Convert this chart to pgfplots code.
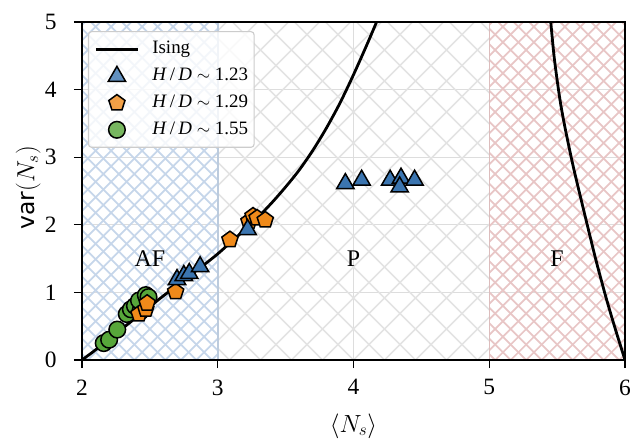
\documentclass[border=0pt]{standalone}
\usepackage{pgfplots}
\pgfplotsset{compat=1.18}
\usepackage{fontspec}
\setmainfont{Liberation Serif}
\newfontfamily\labelsans{DejaVu Sans}

\definecolor{afhatch}{HTML}{C6D6EA}
\definecolor{afedge}{HTML}{BCCBDD}
\definecolor{phatch}{HTML}{E3E3E3}
\definecolor{fhatch}{HTML}{E8C6C6}
\definecolor{fedge}{HTML}{DCBDBD}
\definecolor{gridgray}{HTML}{DDDDDD}
\definecolor{mblue}{HTML}{3B75B0}
\definecolor{morange}{HTML}{F08A1A}
\definecolor{mgreen}{HTML}{57A63A}

% cross-hatching of the band x0..x1 (colour #3, line spacing #4, anchored at x=#5)
\newcommand{\crosshatch}[5]{%
  \begin{scope}
    \clip (axis cs:#1,0) rectangle (axis cs:#2,5);
    \pgfplotsinvokeforeach{-40,...,40}{
      \draw[#3, line width=1.6bp]
        ([xshift=##1*#4]axis cs:#5,0) -- ++(360bp,360bp);
      \draw[#3, line width=1.6bp]
        ([xshift=##1*#4]axis cs:#5,0) -- ++(-360bp,360bp);
    }
  \end{scope}}

\begin{document}
\begin{tikzpicture}
\begin{axis}[
  at={(0,0)}, anchor=south west,
  scale only axis, width=543bp, height=338bp,
  xmin=2, xmax=6, ymin=0, ymax=5,
  xtick={2,3,4,5,6}, ytick={0,1,2,3,4,5},
  tick pos=left, tick align=outside, major tick length=8bp,
  major tick style={black, line width=1.3bp},
  axis line style={black, line width=1.5bp},
  grid=major, major grid style={gridgray, line width=1bp},
  ticklabel style={font=\fontsize{23.5}{26}\selectfont},
  xticklabel style={yshift=-8bp},
  yticklabel style={xshift=-14bp},
  /pgf/number format/assume math mode=true,
  label style={font=\fontsize{23.5}{26}\selectfont},
  xlabel={$\langle N_s\rangle$},
  ylabel={{\labelsans var}$(N_s)$},
  xlabel style={at={(axis description cs:0.5,-0.195)}, anchor=center},
  ylabel style={at={(axis description cs:-0.099,0.51)}, anchor=center},
  legend image code/.code={%
    \draw[mark repeat=2,mark phase=2,#1]
      plot coordinates {(0bp,0bp)(21bp,0bp)(42bp,0bp)};},
  legend cell align=left,
  legend style={
    at={(axis description cs:0.011,0.973)}, anchor=north west,
    draw=black!20, line width=1.1bp, rounded corners=3bp,
    fill=white, fill opacity=0.8, text opacity=1,
    font=\fontsize{19}{22}\selectfont,
    row sep=7.7bp, inner xsep=6bp, inner ysep=8bp,
    nodes={inner sep=0bp, text height=14bp, text depth=5bp},
    /tikz/every odd column/.append style={column sep=13bp},
  },
]

% phase regions: antiferromagnetic, paramagnetic, ferromagnetic
\crosshatch{3}{5}{phatch}{31bp}{4}
\crosshatch{2}{3}{afhatch}{15.5bp}{2.5}
\crosshatch{5}{6}{fhatch}{15.5bp}{5.5}
\addplot[afedge, line width=1.5bp, forget plot] coordinates {(3,0) (3,5)};
\addplot[fedge, line width=1.5bp, forget plot] coordinates {(5,0) (5,5)};

\node[font=\fontsize{24}{26}\selectfont] at (axis cs:2.5,1.5) {AF};
\node[font=\fontsize{24}{26}\selectfont] at (axis cs:4.0,1.5) {P};
\node[font=\fontsize{24}{26}\selectfont] at (axis cs:5.5,1.5) {F};

% legend entries
\addlegendimage{black, line width=2.8bp}
\addlegendentry{Ising}
\addlegendimage{only marks, mark=triangle*, mark size=10bp,
  mark options={fill=mblue, draw=black, line width=1.5bp}}
\addlegendentry{\textit{H}\,/\,\textit{D} $\sim$ 1.23}
\addlegendimage{only marks, mark=pentagon*, mark size=8.5bp,
  mark options={fill=morange, draw=black, line width=1.5bp}}
\addlegendentry{\textit{H}\,/\,\textit{D} $\sim$ 1.29}
\addlegendimage{only marks, mark=*, mark size=8.3bp,
  mark options={fill=mgreen, draw=black, line width=1.5bp}}
\addlegendentry{\textit{H}\,/\,\textit{D} $\sim$ 1.55}

% Ising reference curves
\addplot[black, line width=2.8bp, smooth, forget plot] coordinates {
  (2.0,0.0) (2.1,0.15) (2.2,0.31) (2.3,0.47) (2.4,0.63) (2.5,0.79)
  (2.6,0.95) (2.7,1.10) (2.8,1.26) (2.9,1.41) (3.0,1.57) (3.1,1.75)
  (3.2,1.93) (3.3,2.12) (3.4,2.33) (3.5,2.56) (3.6,2.81) (3.7,3.10)
  (3.8,3.43) (3.9,3.80) (4.0,4.22) (4.1,4.67) (4.17,5.0) (4.2,5.15)
};
\addplot[black, line width=2.8bp, smooth, forget plot] coordinates {
  (6.0,0.0) (5.93,0.45) (5.865,0.89) (5.8,1.37) (5.767,1.63) (5.7,2.18)
  (5.619,2.86) (5.56,3.42) (5.521,3.85) (5.48,4.45) (5.453,5.0) (5.44,5.25)
};

% H/D ~ 1.55
\addplot[only marks, mark=*, mark size=8.3bp, forget plot,
  mark options={fill=mgreen, draw=black, line width=1.5bp}] coordinates {
  (2.16,0.25) (2.20,0.30) (2.26,0.45) (2.33,0.68) (2.36,0.75)
  (2.39,0.80) (2.43,0.72) (2.42,0.88) (2.47,0.96) (2.49,0.93)
};
% H/D ~ 1.29
\addplot[only marks, mark=pentagon*, mark size=8.5bp, forget plot,
  mark options={fill=morange, draw=black, line width=1.5bp}] coordinates {
  (2.42,0.68) (2.47,0.75) (2.48,0.84) (2.69,1.01) (3.09,1.78)
  (3.23,2.05) (3.26,2.13) (3.29,2.10) (3.35,2.07)
};
% H/D ~ 1.23
\addplot[only marks, mark=triangle*, mark size=10bp, forget plot,
  mark options={fill=mblue, draw=black, line width=1.5bp}] coordinates {
  (2.70,1.19) (2.75,1.25) (2.79,1.28) (2.87,1.38) (3.22,1.93)
  (3.94,2.61) (4.06,2.66) (4.27,2.66) (4.35,2.69) (4.34,2.56) (4.45,2.66)
};
\end{axis}
% frame and outward ticks drawn over the hatched bands
\draw[black, line width=1.5bp] (0,0) rectangle (543bp,338bp);
\foreach \x in {0,135.75,271.5,407.25,543}
  \draw[black, line width=1.3bp] (\x bp,0) -- (\x bp,-8bp);
\foreach \y in {0,67.6,135.2,202.8,270.4,338}
  \draw[black, line width=1.3bp] (0,\y bp) -- (-8bp,\y bp);
\path (-82bp,-79bp) rectangle (555bp,360bp);
\end{tikzpicture}
\end{document}
